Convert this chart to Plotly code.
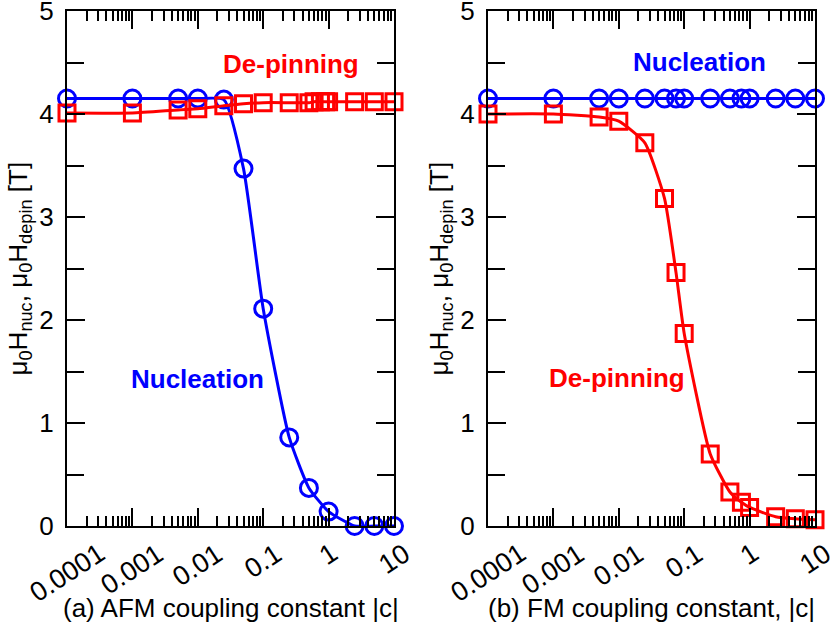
import numpy as np
import plotly.graph_objects as go
from plotly.subplots import make_subplots

# (a) AFM coupling
afm_c_nuc = [1e-4, 1e-3, 5e-3, 1e-2, 2.5e-2, 5e-2, 0.1, 0.25, 0.5, 1, 2.5, 5, 10]
afm_h_nuc = [4.15, 4.15, 4.15, 4.15, 4.14, 3.47, 2.11, 0.86, 0.37, 0.14, 0.0, 0.0, 0.0]
afm_c_dep = [1e-4, 1e-3, 5e-3, 1e-2, 2.5e-2, 5e-2, 0.1, 0.25, 0.5, 0.6, 0.75, 0.9, 1, 2.5, 5, 10]
afm_h_dep = [4.01, 4.01, 4.04, 4.05, 4.08, 4.10, 4.11, 4.11, 4.11, 4.12, 4.12, 4.12, 4.12, 4.12, 4.12, 4.12]

# (b) FM coupling
fm_c = [1e-4, 1e-3, 5e-3, 1e-2, 2.5e-2, 5e-2, 7.5e-2, 0.1, 0.25, 0.5, 0.75, 1, 2.5, 5, 10]
fm_h_nuc = [4.15, 4.15, 4.15, 4.15, 4.15, 4.15, 4.15, 4.15, 4.15, 4.15, 4.15, 4.15, 4.15, 4.15, 4.15]
fm_h_dep = [4.00, 4.00, 3.97, 3.93, 3.72, 3.18, 2.46, 1.87, 0.70, 0.33, 0.23, 0.18, 0.09, 0.07, 0.06]

x_ticks = [0.0001, 0.001, 0.01, 0.1, 1, 10]
x_ticklabels = ["0.0001", "0.001", "0.01", "0.1", "1", "10"]
x_titles = ["(a) AFM coupling constant |c|", "(b) FM coupling constant, |c|"]
y_title = "μ<sub>0</sub>H<sub>nuc</sub>, μ<sub>0</sub>H<sub>depin</sub> [T]"

FONT = "Liberation Sans, Arial, sans-serif"
BLUE = "#0000ff"
RED = "#ff0000"

fig = make_subplots(rows=1, cols=2)


def add_series(x, y, color, symbol, size, col):
    fig.add_trace(go.Scatter(
        x=x, y=y, mode="lines+markers",
        line=dict(color=color, width=3, shape="spline", smoothing=0.5),
        marker=dict(symbol=symbol, size=size, color=color, line=dict(color=color, width=3)),
        cliponaxis=False, showlegend=False,
    ), row=1, col=col)


add_series(afm_c_nuc, afm_h_nuc, BLUE, "circle-open", 17, 1)
add_series(afm_c_dep, afm_h_dep, RED, "square-open", 16, 1)
add_series(fm_c, fm_h_nuc, BLUE, "circle-open", 17, 2)
add_series(fm_c, fm_h_dep, RED, "square-open", 16, 2)

W, H = 830, 623
x_domains = [[67 / W, 394 / W], [488 / W, 815 / W]]
y_domain = [1 - 526 / H, 1 - 11 / H]

axis_common = dict(
    showline=True, linecolor="black", linewidth=2, mirror="ticks",
    showgrid=False, zeroline=False, ticks="inside", tickcolor="black",
)

for i in (1, 2):
    fig.update_xaxes(
        type="log", range=[-4, 1], domain=x_domains[i - 1],
        tickvals=x_ticks, showticklabels=False, ticklen=18, tickwidth=1.5,
        minor=dict(ticks="inside", ticklen=10, tickwidth=1.5, tickcolor="black", dtick="D1"),
        row=1, col=i, **axis_common,
    )
    fig.update_yaxes(
        range=[0, 5], domain=y_domain, dtick=1, ticklen=18, tickwidth=1.5,
        tickfont=dict(family=FONT, size=26, color="black"), ticklabelstandoff=6,
        ticklabeloverflow="allow",
        minor=dict(ticks="inside", ticklen=17, tickwidth=1.5, tickcolor="black", dtick=0.5),
        row=1, col=i, **axis_common,
    )

annotations = []
for i, xa in enumerate(["x", "x2"]):
    ya = "y" if i == 0 else "y2"
    # rotated x tick labels, centred under each decade tick
    for v, lab in zip(x_ticks, x_ticklabels):
        annotations.append(dict(
            x=np.log10(v), y=0, xref=xa, yref=ya, text=lab, showarrow=False,
            textangle=-33, xanchor="center", yanchor="top", yshift=-9,
            font=dict(family=FONT, size=27, color="black"),
        ))
    annotations.append(dict(
        x=0.5, y=1 - 608 / H, xref=xa + " domain", yref="paper", text=x_titles[i],
        showarrow=False, xanchor="center", yanchor="middle",
        font=dict(family=FONT, size=26, color="black"),
    ))
    annotations.append(dict(
        x=(19 + 421 * i) / W, y=0.5 * (y_domain[0] + y_domain[1]), xref="paper", yref="paper",
        text=y_title, showarrow=False, textangle=-90, xanchor="center", yanchor="middle",
        font=dict(family=FONT, size=26, color="black"),
    ))

# curve labels
labels = [
    ("x", "y", -0.58, 4.49, "De-pinning", RED),
    ("x", "y", -2.0, 1.43, "Nucleation", BLUE),
    ("x2", "y2", -0.76, 4.5, "Nucleation", BLUE),
    ("x2", "y2", -2.03, 1.44, "De-pinning", RED),
]
for xa, ya, x, y, txt, col in labels:
    annotations.append(dict(
        x=x, y=y, xref=xa, yref=ya, text="<b>%s</b>" % txt, showarrow=False,
        xanchor="center", yanchor="middle",
        font=dict(family=FONT, size=26, color=col),
    ))

fig.update_layout(
    width=W, height=H, margin=dict(l=0, r=0, t=0, b=0, autoexpand=False),
    paper_bgcolor="white", plot_bgcolor="white",
    font=dict(family=FONT, size=26, color="black"),
    annotations=annotations,
)

fig.write_html(
    "out.html",
    config={"displayModeBar": False},
    post_script="document.body.style.margin='0';document.body.style.overflow='hidden';",
)
